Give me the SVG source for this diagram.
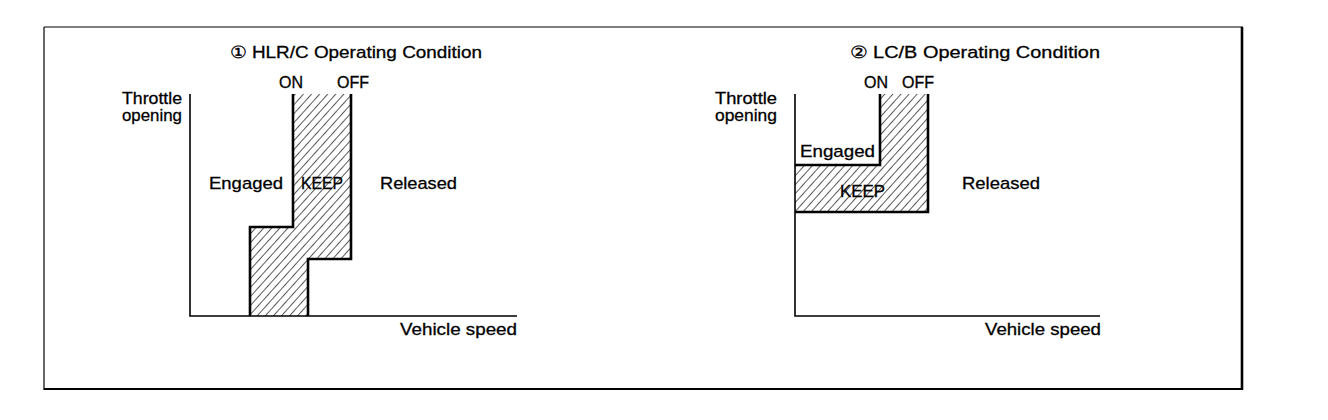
<svg xmlns="http://www.w3.org/2000/svg" width="1328" height="420" viewBox="0 0 1328 420">
<style>
text{font-family:"Liberation Sans",Arial,sans-serif;font-size:17px;fill:#000;stroke:#000;stroke-width:0.3}
.oo{font-size:16px}
.ax{stroke:#000;stroke-width:1.6;fill:none}
.bd{stroke:#000;stroke-width:2.6;fill:none;stroke-linejoin:miter}
.keep{fill:url(#hatch);stroke:none}
</style>
<defs>
<pattern id="hatch" patternUnits="userSpaceOnUse" width="6" height="6" patternTransform="rotate(42)">
<rect width="6" height="6" fill="#fff"/>
<line x1="0" y1="0" x2="0" y2="6" stroke="#000" stroke-width="1.3"/>
</pattern>
</defs>
<rect width="1328" height="420" fill="#fff"/>
<g id="frame">
<line x1="44" y1="27" x2="1243" y2="27" stroke="#000" stroke-width="1.2"/>
<line x1="44" y1="27" x2="44" y2="390" stroke="#000" stroke-width="1.2"/>
<line x1="1242" y1="27" x2="1242" y2="390" stroke="#000" stroke-width="2.6"/>
<line x1="44" y1="389" x2="1243" y2="389" stroke="#000" stroke-width="2"/>
</g>
<g id="chart1">
<text x="230" y="58" textLength="252" lengthAdjust="spacingAndGlyphs">① HLR/C Operating Condition</text>
<text class="oo" x="279" y="88">ON</text>
<text class="oo" x="337" y="88">OFF</text>
<text x="122" y="104" textLength="60" lengthAdjust="spacingAndGlyphs">Throttle</text>
<text x="122" y="121" textLength="60" lengthAdjust="spacingAndGlyphs">opening</text>
<path class="keep" d="M293 94 H351 V259 H308 V316 H250 V227 H293 Z"/>
<path class="ax" d="M190 94 V316 H517"/>
<path class="bd" d="M293 94 V227 H250 V316 M351 94 V259 H308 V316"/>
<text x="209" y="189" textLength="74" lengthAdjust="spacingAndGlyphs">Engaged</text>
<text x="301" y="189" textLength="42" lengthAdjust="spacingAndGlyphs">KEEP</text>
<text x="380" y="189" textLength="77" lengthAdjust="spacingAndGlyphs">Released</text>
<text x="400" y="335" textLength="117" lengthAdjust="spacingAndGlyphs">Vehicle speed</text>
</g>
<g id="chart2">
<text x="850" y="58" textLength="250" lengthAdjust="spacingAndGlyphs">② LC/B Operating Condition</text>
<text class="oo" x="864" y="88">ON</text>
<text class="oo" x="902" y="88">OFF</text>
<text x="715" y="104" textLength="62" lengthAdjust="spacingAndGlyphs">Throttle</text>
<text x="715" y="121" textLength="62" lengthAdjust="spacingAndGlyphs">opening</text>
<path class="keep" d="M880 94 H928 V212 H795 V165 H880 Z"/>
<path class="ax" d="M795 94 V316 H1100"/>
<path class="bd" d="M880 94 V165 H795 M928 94 V212 H795"/>
<text x="800" y="157" textLength="75" lengthAdjust="spacingAndGlyphs">Engaged</text>
<text x="840" y="197" textLength="45" lengthAdjust="spacingAndGlyphs">KEEP</text>
<text x="962" y="189" textLength="78" lengthAdjust="spacingAndGlyphs">Released</text>
<text x="985" y="335" textLength="116" lengthAdjust="spacingAndGlyphs">Vehicle speed</text>
</g>
</svg>
